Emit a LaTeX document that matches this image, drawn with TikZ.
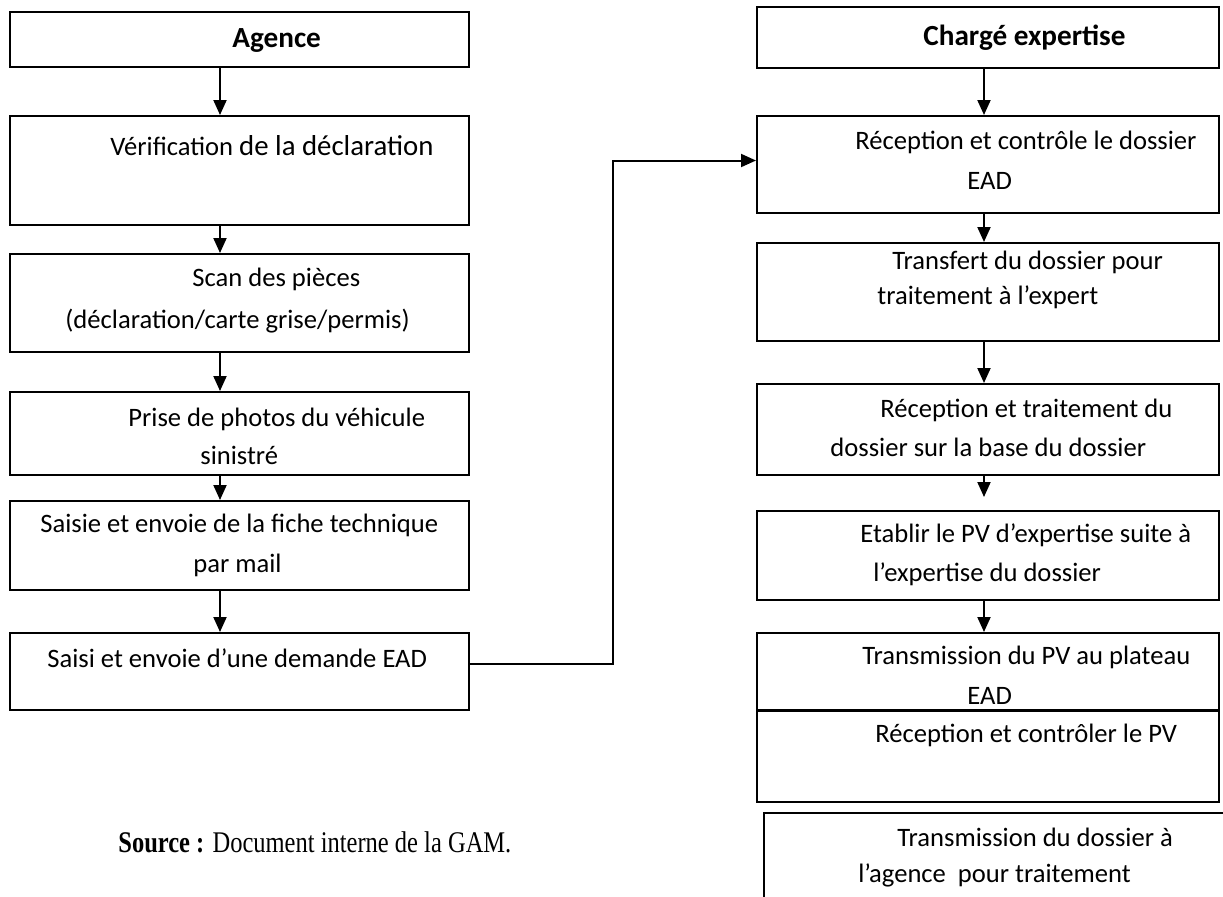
\documentclass[tikz,border=0pt]{standalone}
\usepackage{fontspec}
\setmainfont{Carlito}
\newfontfamily\srcfont{Liberation Serif}
\usetikzlibrary{arrows.meta}

\begin{document}
\begin{tikzpicture}[x=0.5pt, y=-0.5pt]
        % ================= styles =================
        \tikzset{
            % process box
            stepbox/.style={draw=black, line width=1pt, inner sep=0pt, fill=white},
            % one line of box text
            boxtext/.style={anchor=west, inner sep=0pt, font=\fontsize{13.3}{16}\selectfont, text height=1.6ex, text depth=0.4ex},
            % column heading text
            headtext/.style={boxtext, font=\fontsize{14.6}{17}\selectfont\bfseries},
            % vertical flow arrow
            flow/.style={line width=1pt, -{Triangle[length=7.5pt, width=6.5pt]}}
        }
        \useasboundingbox (0,0) rectangle (1223,896);

        % ================= 1. column axes =================
        \coordinate (lcol) at (220,0);
        \coordinate (rcol) at (984,0);

        % ================= 2. left column: Agence =================
        \node[stepbox, minimum width=229.5pt, minimum height=27.5pt] (agence) at (239.5,39.5) {};
        \node[stepbox, minimum width=229.5pt, minimum height=54.5pt] (verif) at (239.5,170.5) {};
        \node[stepbox, minimum width=229.5pt, minimum height=49pt] (scan) at (239.5,303) {};
        \node[stepbox, minimum width=229.5pt, minimum height=41.5pt] (prise) at (239.5,433.5) {};
        \node[stepbox, minimum width=229.5pt, minimum height=44.5pt] (saisie) at (239.5,545.5) {};
        \node[stepbox, minimum width=229.5pt, minimum height=38.5pt] (saisi) at (239.5,671.5) {};

        \node[headtext] (tagence) at (232,42) {Agence};
        \node[boxtext] (tverif) at (110,150) {Vérification {\fontsize{14.4}{17}\selectfont de la déclaration}};
        \node[boxtext] (tscan) at (192,281) {Scan des pièces};
        \node[boxtext] (tscanb) at (65,323) {(déclaration/carte grise/permis)};
        \node[boxtext] (tprise) at (128,421) {Prise de photos du véhicule};
        \node[boxtext] (tpriseb) at (200,459) {sinistré};
        \node[boxtext] (tsaisie) at (40,527) {Saisie et envoie de la fiche technique};
        \node[boxtext] (tsaisieb) at (193,567) {par mail};
        \node[boxtext] (tsaisi) at (47,662) {Saisi et envoie d’une demande EAD};

        % ================= 3. right column: Chargé expertise =================
        \node[stepbox, minimum width=231pt, minimum height=30.5pt] (charge) at (988,37.5) {};
        \node[stepbox, minimum width=231pt, minimum height=48.5pt] (recepa) at (988,164.5) {};
        \node[stepbox, minimum width=231pt, minimum height=49pt] (transf) at (988,292) {};
        \node[stepbox, minimum width=231pt, minimum height=45.5pt] (recepb) at (988,429.5) {};
        \node[stepbox, minimum width=231pt, minimum height=44.5pt] (etablir) at (988,555.5) {};
        \node[stepbox, minimum width=231pt, minimum height=38.5pt] (transm) at (988,671.5) {};
        \node[stepbox, minimum width=231pt, minimum height=45.5pt] (recepc) at (988,756.5) {};
        \node[stepbox, minimum width=235.5pt, minimum height=48.5pt] (transmb) at (999.5,861.5) {};

        \node[headtext] (tcharge) at (923,40) {Chargé expertise};
        \node[boxtext] (trecepa) at (855,144) {Réception et contrôle le dossier};
        \node[boxtext] (trecepab) at (967,184) {EAD};
        \node[boxtext] (ttransf) at (892,264) {Transfert du dossier pour};
        \node[boxtext] (ttransfb) at (877,299) {traitement à l’expert};
        \node[boxtext] (trecepb) at (880,412) {Réception et traitement du};
        \node[boxtext] (trecepbb) at (830,451) {dossier sur la base du dossier};
        \node[boxtext] (tetablir) at (860,537) {Etablir le PV d’expertise suite à};
        \node[boxtext] (tetablirb) at (873,576) {l’expertise du dossier};
        \node[boxtext] (ttransm) at (862,659) {Transmission du PV au plateau};
        \node[boxtext] (ttransmb) at (967,699) {EAD};
        \node[boxtext] (trecepc) at (875,737) {Réception et contrôler le PV};
        \node[boxtext] (ttransmc) at (897,841) {Transmission du dossier à};
        \node[boxtext] (ttransmcb) at (858,877) {l’agence\ \ pour traitement};

        % ================= 4. source =================
        \node[anchor=west, inner sep=0pt, font=\srcfont\fontsize{15}{18}\selectfont] (source) at (118,842) {\scalebox{0.817}[1]{\textbf{Source :} Document interne de la GAM.}};

        % ================= 5. arrows =================
        % --- left column ---
        \draw[flow] (agence.south -| lcol) -- (verif.north -| lcol);
        \draw[flow] (verif.south -| lcol) -- (scan.north -| lcol);
        \draw[flow] (scan.south -| lcol) -- (prise.north -| lcol);
        \draw[flow] (prise.south -| lcol) -- (saisie.north -| lcol);
        \draw[flow] (saisie.south -| lcol) -- (saisi.north -| lcol);

        % --- right column ---
        \draw[flow] (charge.south -| rcol) -- (recepa.north -| rcol);
        \draw[flow] (recepa.south -| rcol) -- (transf.north -| rcol);
        \draw[flow] (transf.south -| rcol) -- (recepb.north -| rcol);
        \draw[flow, shorten >=6.5pt] (recepb.south -| rcol) -- (etablir.north -| rcol);
        \draw[flow] (etablir.south -| rcol) -- (transm.north -| rcol);

        % --- demande EAD -> chargé expertise ---
        \draw[flow] ([yshift=3.75pt]saisi.east) -- ++(143,0) |- ([yshift=2pt]recepa.west);

    \end{tikzpicture}
\end{document}
